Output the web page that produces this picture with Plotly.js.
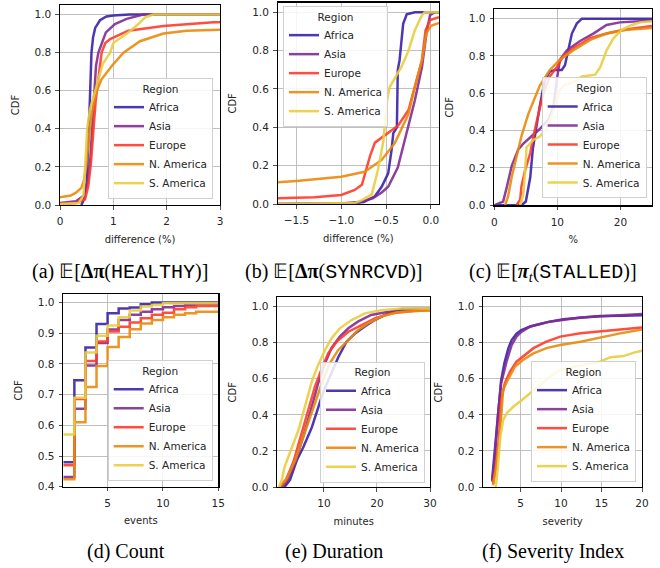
<!DOCTYPE html>
<html>
<head>
<meta charset="utf-8">
<script src="https://cdn.plot.ly/plotly-3.0.1.min.js"></script>
<style>html,body{margin:0;padding:0;background:#fff;}#chart{width:660px;height:568px;}</style>
</head>
<body>
<div id="chart"></div>
<script>
// ---------- DATA ----------
const regions = ["Africa", "Asia", "Europe", "N. America", "S. America"];

// (a) E[Δπ(HEALTHY)]  – difference (%)
const healthyAfricaX = [0.40,0.45,0.50,0.53,0.56,0.59,0.62,0.66,0.75,0.87,1.0,1.3,3.0];
const healthyAfricaY = [0.0,0.03,0.12,0.30,0.55,0.80,0.88,0.93,0.97,0.99,0.995,1.0,1.0];
const healthyAsiaX = [0.0,0.3,0.45,0.52,0.57,0.61,0.65,0.675,0.72,0.86,1.03,1.25,1.56,3.0];
const healthyAsiaY = [0.01,0.02,0.05,0.12,0.25,0.45,0.62,0.73,0.80,0.906,0.95,0.977,1.0,1.0];
const healthyEuropeX = [0.0,0.3,0.47,0.53,0.58,0.625,0.67,0.71,0.78,0.85,0.94,1.28,1.94,2.875,3.0];
const healthyEuropeY = [0.005,0.01,0.03,0.10,0.22,0.40,0.55,0.64,0.80,0.85,0.871,0.915,0.94,0.96,0.96];
const healthyNAmericaX = [0.0,0.2,0.3,0.4,0.45,0.49,0.53,0.58,0.64,0.69,0.78,0.97,1.19,1.5,1.94,2.375,3.0];
const healthyNAmericaY = [0.04,0.05,0.065,0.09,0.13,0.2,0.32,0.45,0.55,0.60,0.66,0.73,0.80,0.86,0.90,0.915,0.92];
const healthySAmericaX = [0.0,0.35,0.44,0.47,0.51,0.56,0.62,0.69,0.80,0.94,1.0,1.28,1.47,1.6,1.75,3.0];
const healthySAmericaY = [0.005,0.01,0.05,0.2,0.4,0.5,0.56,0.64,0.74,0.80,0.85,0.906,0.95,0.986,1.0,1.0];

// (b) E[Δπ(SYNRCVD)] – difference (%)
const synAfricaX = [-1.71,-0.93,-0.75,-0.625,-0.55,-0.477,-0.44,-0.42,-0.38,-0.37,-0.35,-0.31,-0.27,-0.18,0.09];
const synAfricaY = [0.0,0.002,0.01,0.04,0.09,0.16,0.28,0.37,0.40,0.70,0.75,0.94,0.99,1.0,1.0];
const synAsiaX = [-1.71,-1.0,-0.8,-0.65,-0.55,-0.477,-0.37,-0.27,-0.18,-0.10,-0.05,-0.01,0.045,0.09];
const synAsiaY = [0.0,0.003,0.01,0.03,0.06,0.09,0.19,0.37,0.54,0.715,0.89,0.985,1.0,1.0];
const synEuropeX = [-1.71,-1.3,-1.0,-0.85,-0.77,-0.72,-0.68,-0.625,-0.51,-0.365,-0.25,-0.18,-0.10,-0.06,-0.01,0.09];
const synEuropeY = [0.03,0.035,0.047,0.073,0.10,0.18,0.25,0.32,0.36,0.41,0.49,0.61,0.75,0.906,0.96,0.975];
const synNAmericaX = [-1.71,-1.5,-1.0,-0.74,-0.55,-0.40,-0.25,-0.18,-0.10,-0.05,0.0,0.09];
const synNAmericaY = [0.113,0.12,0.142,0.168,0.23,0.32,0.47,0.61,0.75,0.89,0.93,0.944];
const synSAmericaX = [-1.71,-0.85,-0.77,-0.66,-0.59,-0.53,-0.51,-0.49,-0.46,-0.40,-0.33,-0.25,-0.18,-0.10,-0.07,0.09];
const synSAmericaY = [0.0,0.005,0.02,0.05,0.18,0.33,0.44,0.54,0.61,0.66,0.715,0.80,0.906,0.985,1.0,1.0];

// (c) E[π_t(STALLED)] – %
const stAfricaX = [0,4.3,5.0,5.7,6.1,6.5,7.2,8.0,8.8,9.6,10.7,11.2,11.7,12.3,13.1,13.9,25];
const stAfricaY = [0,0,0.02,0.15,0.30,0.39,0.53,0.67,0.716,0.725,0.725,0.75,0.83,0.92,0.975,1.0,1.0];
const stAsiaX = [0,1.4,2.0,2.75,3.8,4.6,5.9,7.25,8.6,9.4,9.9,10.4,11.5,13.6,15.7,17.8,19.9,25];
const stAsiaY = [0,0.02,0.10,0.21,0.30,0.33,0.37,0.41,0.46,0.53,0.67,0.78,0.83,0.88,0.92,0.966,0.98,0.99];
const stEuropeX = [3.5,4.1,4.3,4.9,5.7,6.2,7.0,7.8,8.8,9.9,10.95,12.5,15.2,17.8,20.5,25];
const stEuropeY = [0,0.03,0.10,0.19,0.28,0.37,0.49,0.60,0.69,0.74,0.80,0.84,0.895,0.92,0.94,0.96];
const stNAmericaX = [1.7,2.2,2.75,3.5,4.3,5.4,6.2,7.2,8.8,10.4,12.5,15.2,17.8,21,25];
const stNAmericaY = [0,0.05,0.15,0.26,0.37,0.49,0.56,0.64,0.725,0.78,0.83,0.886,0.92,0.94,0.95];
const stSAmericaX = [4.1,4.6,4.9,5.1,6.2,7.25,8.3,9.4,10.4,11.2,12.5,13.9,16.0,16.8,17.8,18.9,20.2,21.8,23.1,25];
const stSAmericaY = [0,0.06,0.19,0.31,0.35,0.37,0.41,0.51,0.62,0.645,0.66,0.69,0.70,0.74,0.83,0.895,0.94,0.966,0.98,0.986];

// (d) Count – events (step CDF)
const countEvents = [1,2,3,4,5,6,7,8,9,10,11,12,13,14,15];
const countAfrica = [0.480,0.747,0.854,0.930,0.965,0.981,0.984,0.995,1.0,1.0,1.0,1.0,1.0,1.0,1.0];
const countAsia = [0.432,0.654,0.795,0.868,0.912,0.943,0.960,0.970,0.978,0.985,0.989,0.993,0.996,0.996,0.996];
const countEurope = [0.470,0.686,0.810,0.873,0.906,0.921,0.935,0.949,0.960,0.967,0.978,0.985,0.989,0.989,0.989];
const countNAmerica = [0.424,0.610,0.725,0.793,0.855,0.888,0.913,0.932,0.943,0.952,0.960,0.965,0.970,0.970,0.970];
const countSAmerica = [0.570,0.690,0.837,0.892,0.925,0.952,0.974,0.987,0.992,0.998,0.998,0.998,0.998,0.998,0.998];

// (e) Duration – minutes
const durAfricaX = [2.56,3.6,4.9,6.1,7.7,8.9,9.9,11.1,12.7,14.25,15.8,17.7,19.6,22.1,24.6,30];
const durAfricaY = [0,0.04,0.15,0.22,0.33,0.445,0.53,0.61,0.72,0.806,0.85,0.89,0.926,0.963,0.987,0.989];
const durAsiaX = [2.06,3.0,4.6,6.1,7.7,8.9,10.2,11.4,13.0,14.6,16.4,18.9,22.1,25.8,30];
const durAsiaY = [0,0.03,0.14,0.28,0.445,0.575,0.686,0.77,0.834,0.88,0.917,0.954,0.972,0.985,0.985];
const durEuropeX = [1.75,2.7,4.25,5.8,7.1,8.3,9.6,10.8,12.4,14.6,17.1,19.6,22.7,27.1,30];
const durEuropeY = [0,0.03,0.14,0.30,0.427,0.556,0.658,0.741,0.806,0.861,0.898,0.935,0.963,0.978,0.98];
const durNAmericaX = [1.56,3.0,4.6,6.4,8.0,9.6,11.1,12.7,14.6,16.4,18.3,20.8,23.9,30];
const durNAmericaY = [0,0.048,0.15,0.30,0.445,0.575,0.686,0.76,0.815,0.87,0.907,0.945,0.969,0.98];
const durSAmericaX = [1.56,2.06,2.56,3.3,4.25,5.2,6.4,7.7,8.9,10.2,11.4,13.0,15.2,17.7,20.8,24.6,30];
const durSAmericaY = [0,0.04,0.11,0.168,0.233,0.316,0.445,0.584,0.677,0.76,0.824,0.88,0.926,0.963,0.98,0.99,0.99];

// (f) Severity Index – severity
const sevAfricaX = [1.49,1.7,2.0,2.4,2.6,3.0,3.5,3.9,4.5,5.1,6.2,7.4,8.6,10.3,12.4,14.8,17.7,20];
const sevAfricaY = [0.04,0.14,0.325,0.48,0.59,0.686,0.77,0.815,0.85,0.87,0.89,0.904,0.917,0.93,0.94,0.948,0.95,0.952];
const sevAsiaX = [1.49,1.8,2.2,2.6,3.3,3.9,4.5,5.1,6.2,8.6,12.4,17.7,20];
const sevAsiaY = [0.03,0.15,0.39,0.575,0.70,0.787,0.834,0.86,0.89,0.917,0.94,0.954,0.959];
const sevEuropeX = [1.6,1.94,2.35,2.6,3.05,3.7,4.5,5.3,6.6,8.2,9.9,12.4,14.8,17.3,20];
const sevEuropeY = [0.017,0.11,0.28,0.48,0.575,0.64,0.695,0.723,0.77,0.806,0.834,0.852,0.861,0.874,0.885];
const sevNAmericaX = [1.6,2.0,2.4,2.85,3.5,4.3,5.3,6.6,8.2,9.9,12.4,14.8,17.3,20];
const sevNAmericaY = [0.01,0.11,0.26,0.54,0.60,0.667,0.704,0.741,0.77,0.787,0.806,0.83,0.852,0.874];
const sevSAmericaX = [1.94,2.2,2.5,2.85,3.3,4.1,5.1,6.2,7.4,8.6,9.9,11.5,13.2,14.8,16.1,17.7,19,20];
const sevSAmericaY = [0,0.11,0.28,0.37,0.41,0.445,0.48,0.52,0.566,0.61,0.65,0.664,0.677,0.695,0.72,0.726,0.745,0.756];

// captions / axis labels
const captionsTop = ["(a) 𝔼[<b>Δπ</b>(<span style=\"font-family:Liberation Mono\">HEALTHY</span>)]",
                     "(b) 𝔼[<b>Δπ</b>(<span style=\"font-family:Liberation Mono\">SYNRCVD</span>)]",
                     "(c) 𝔼[<b><i>π</i></b><sub><i>t</i></sub>(<span style=\"font-family:Liberation Mono\">STALLED</span>)]"];
const captionsBottom = ["(d) Count", "(e) Duration", "(f) Severity Index"];
const xTitles = ["difference (%)", "difference (%)", "%", "events", "minutes", "severity"];

// ---------- STYLE ----------
const colors = ["#3a22a8", "#7f2c94", "#ff3a2a", "#e98a0c", "#e9cd3e"];
const panels = [
  {series: [[healthyAfricaX,healthyAfricaY],[healthyAsiaX,healthyAsiaY],[healthyEuropeX,healthyEuropeY],[healthyNAmericaX,healthyNAmericaY],[healthySAmericaX,healthySAmericaY]], shape:"linear"},
  {series: [[synAfricaX,synAfricaY],[synAsiaX,synAsiaY],[synEuropeX,synEuropeY],[synNAmericaX,synNAmericaY],[synSAmericaX,synSAmericaY]], shape:"linear"},
  {series: [[stAfricaX,stAfricaY],[stAsiaX,stAsiaY],[stEuropeX,stEuropeY],[stNAmericaX,stNAmericaY],[stSAmericaX,stSAmericaY]], shape:"linear"},
  {series: [[countEvents,countAfrica],[countEvents,countAsia],[countEvents,countEurope],[countEvents,countNAmerica],[countEvents,countSAmerica]], shape:"hv"},
  {series: [[durAfricaX,durAfricaY],[durAsiaX,durAsiaY],[durEuropeX,durEuropeY],[durNAmericaX,durNAmericaY],[durSAmericaX,durSAmericaY]], shape:"linear"},
  {series: [[sevAfricaX,sevAfricaY],[sevAsiaX,sevAsiaY],[sevEuropeX,sevEuropeY],[sevNAmericaX,sevNAmericaY],[sevSAmericaX,sevSAmericaY]], shape:"linear"}
];

const W = 660, H = 568;
// pixel boxes of plot areas [left, right, top, bottom]
const boxes = [[60,220,5,205],[277.7,439,2.7,204],[494.3,652,9.3,205.3],[63.3,218.3,294,486.7],[277.3,430,297.3,487],[483.3,642,297.3,487]];
const xRanges = [[0,3],[-1.71,0.09],[0,25],[1,15],[1.2,30],[0.4,20]];
const yRanges = [[0,1.05],[0,1.05],[0,1.05],[0.4,1.028],[0,1.052],[0,1.052]];
const xTicks = [[0,1,2,3],[-1.5,-1.0,-0.5,0.0],[0,10,20],[5,10,15],[10,20,30],[5,10,15,20]];
const xFormats = ["d",".1f","d","d","d","d"];
const yTicks = [[0,0.2,0.4,0.6,0.8,1.0],[0,0.2,0.4,0.6,0.8,1.0],[0,0.2,0.4,0.6,0.8,1.0],[0.4,0.5,0.6,0.7,0.8,0.9,1.0],[0,0.2,0.4,0.6,0.8,1.0],[0,0.2,0.4,0.6,0.8,1.0]];
// legend anchor positions in px
const legendPos = [
  {x:213, y:199, xa:"right", ya:"bottom"},
  {x:283, y:6, xa:"left", ya:"top"},
  {x:646.7, y:198.3, xa:"right", ya:"bottom"},
  {x:212.7, y:481, xa:"right", ya:"bottom"},
  {x:425, y:482.7, xa:"right", ya:"bottom"},
  {x:636, y:482, xa:"right", ya:"bottom"}
];

const tickFont = {family:"DejaVu Sans", size:10.5, color:"#262626"};
const traces = [];
const layout = {
  width: W, height: H,
  margin: {l:0, r:0, t:0, b:0},
  paper_bgcolor: "#fff", plot_bgcolor: "#fff",
  showlegend: true,
  annotations: []
};

panels.forEach((p, i) => {
  const k = i === 0 ? "" : String(i + 1);
  const legName = i === 0 ? "legend" : "legend" + (i + 1);
  p.series.forEach((s, j) => {
    traces.push({
      type: "scatter", mode: "lines",
      x: s[0], y: s[1],
      name: regions[j],
      xaxis: "x" + k, yaxis: "y" + k,
      legend: legName,
      line: {color: colors[j], width: 2.5, shape: p.shape},
      opacity: 0.9,
      hoverinfo: "skip"
    });
  });
  const b = boxes[i];
  layout["xaxis" + k] = {
    domain: [b[0] / W, b[1] / W],
    anchor: "y" + k,
    range: xRanges[i],
    tickvals: xTicks[i], tickformat: xFormats[i],
    showgrid: true, gridcolor: "#b0b0b0", gridwidth: 0.8,
    zeroline: false,
    showline: true, linecolor: "#000", linewidth: 1.2, mirror: true,
    ticks: "outside", ticklen: 3.5, tickwidth: 0.8, tickcolor: "#262626",
    ticklabelstandoff: 3,
    tickfont: tickFont,
    title: {text: xTitles[i], font: {family:"DejaVu Sans", size:10, color:"#262626"}, standoff: 9}
  };
  layout["yaxis" + k] = {
    domain: [1 - b[3] / H, 1 - b[2] / H],
    anchor: "x" + k,
    range: yRanges[i],
    tickvals: yTicks[i], tickformat: ".1f",
    showgrid: true, gridcolor: "#b0b0b0", gridwidth: 0.8,
    zeroline: false,
    showline: true, linecolor: "#000", linewidth: 1.2, mirror: true,
    ticks: "outside", ticklen: 3.5, tickwidth: 0.8, tickcolor: "#262626",
    ticklabelstandoff: 2,
    tickfont: tickFont,
    title: {text: "CDF", font: {family:"DejaVu Sans", size:10, color:"#262626"}, standoff: 13}
  };
  const lp = legendPos[i];
  layout[legName] = {
    x: lp.x / W, y: 1 - lp.y / H, xanchor: lp.xa, yanchor: lp.ya,
    xref: "paper", yref: "paper",
    bgcolor: "rgba(255,255,255,0.85)", bordercolor: "#d0d0d0", borderwidth: 1,
    font: {family:"DejaVu Sans", size:10.5, color:"#262626"},
    title: {text: "Region", side: "top center", font: {family:"DejaVu Sans", size:10.5, color:"#262626"}},
    tracegroupgap: 0, itemwidth: 30
  };
});

const capTopX = [120, 334, 553];
const capBotX = [126, 334, 553];
captionsTop.forEach((t, i) => {
  layout.annotations.push({text: t, xref:"paper", yref:"paper", x: capTopX[i] / W, y: 1 - 272 / H,
    xanchor:"center", yanchor:"middle", showarrow:false,
    font:{family:"Liberation Serif", size:20, color:"#000"}});
});
captionsBottom.forEach((t, i) => {
  layout.annotations.push({text: t, xref:"paper", yref:"paper", x: capBotX[i] / W, y: 1 - 551 / H,
    xanchor:"center", yanchor:"middle", showarrow:false,
    font:{family:"Liberation Serif", size:20, color:"#000"}});
});

Plotly.newPlot("chart", traces, layout, {staticPlot: true, displayModeBar: false});
</script>
</body>
</html>
